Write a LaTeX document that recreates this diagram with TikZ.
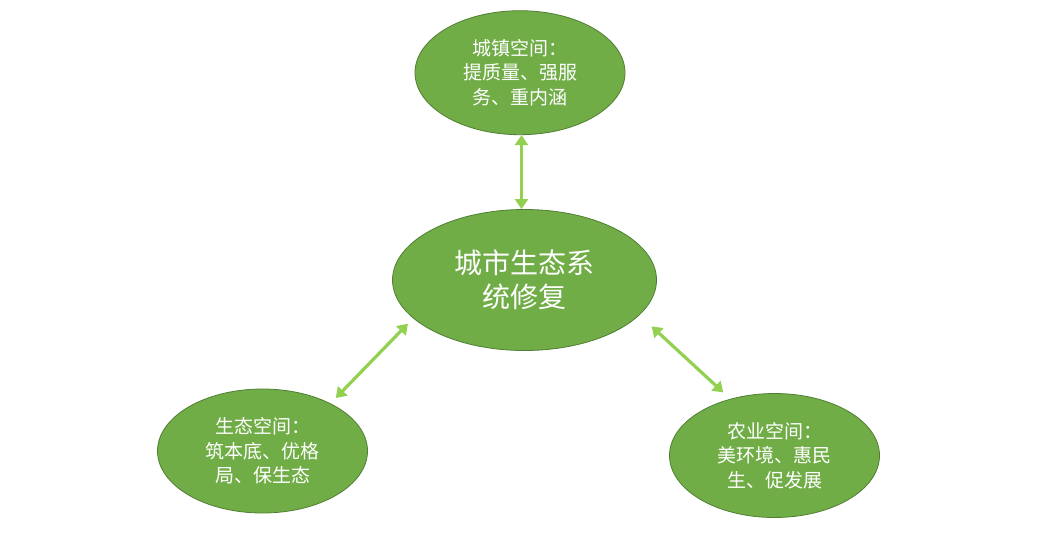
\documentclass[tikz,border=0pt]{standalone}
\usepackage{fontspec}
\newfontfamily\cjk{Noto Sans CJK SC}
\usepackage{tikz}
\usetikzlibrary{shapes.geometric, arrows.meta, positioning}

\definecolor{spacegreen}{HTML}{70AD47}
\definecolor{spaceedge}{HTML}{507E32}
\definecolor{linkgreen}{HTML}{92D050}

\begin{document}
\begin{tikzpicture}[
    x=1pt, y=-1pt,
    space/.style={ellipse, draw=spaceedge, line width=0.8pt, fill=spacegreen, text=white, align=center, inner sep=0pt, minimum width=210pt, minimum height=124pt, font=\cjk\fontsize{19}{24.5}\selectfont},
    core/.style={space, minimum width=264pt, minimum height=141pt, font=\cjk\fontsize{28}{34}\selectfont},
    link/.style={draw=linkgreen, line width=3.2pt, {Triangle[length=10pt, width=13pt]}-{Triangle[length=10pt, width=13pt]}}
]
\useasboundingbox (0,0) rectangle (1048,533);

% centre
\node[core] (mid) at (524.5,280) {城市生态系\\统修复};

% three spaces
\node[space, above=74pt of mid, xshift=-4.5pt] (town) {城镇空间：\\提质量、强服\\务、重内涵};
\node[space] (eco) at (262.5,451) {生态空间：\\筑本底、优格\\局、保生态};
\node[space] (agri) at (774.5,455.5) {农业空间：\\美环境、惠民\\生、促发展};

\draw[link] ([xshift=1.5pt]town.south) -- ([xshift=1.5pt]town.south |- mid.north);
\draw[link, shorten <=7.5pt, shorten >=7.5pt] (mid.199.5) -- (eco.35.4);
\draw[link, shorten <=16.5pt, shorten >=9.5pt] (mid.-17.8) -- (agri.128.7);

\end{tikzpicture}
\end{document}
